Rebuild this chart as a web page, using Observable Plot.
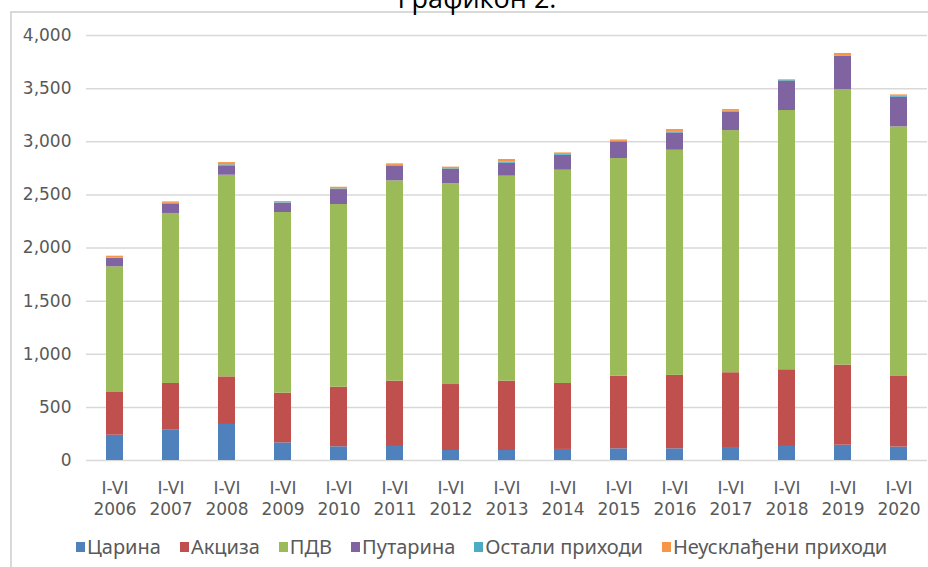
<!DOCTYPE html>
<html>
<head>
<meta charset="utf-8">
<script src="https://cdn.jsdelivr.net/npm/d3@7"></script>
<script src="https://cdn.jsdelivr.net/npm/@observablehq/plot@0.6"></script>
<style>
  html, body { margin: 0; padding: 0; background: #fff; }
  #wrap { position: relative; width: 928px; height: 567px; overflow: hidden; background: #fff; }
  #box { position: absolute; left: 10px; top: 11px; width: 930px; height: 600px;
         border-left: 2px solid #d9d9d9; border-top: 2px solid #d9d9d9; box-sizing: border-box; }
  #title { position: absolute; left: 0; top: 0; }
  #chart { position: absolute; left: 0; top: 0; }
  #legend { position: absolute; left: 76px; top: 533px; display: flex; align-items: center;
            font-family: "Noto Sans", sans-serif; font-size: 20px; color: #595959; white-space: nowrap; }
  .item { display: flex; align-items: center; margin-right: 19px; }
  .sw { width: 9px; height: 10px; margin-right: 2px; }
</style>
</head>
<body>
<div id="wrap">
  <div id="box"></div>
  <svg id="title" width="928" height="20">
    <text x="477" y="8" text-anchor="middle" font-family="Open Sans, sans-serif" font-size="27" fill="#000">Графикон 2.</text>
  </svg>
  <div id="chart"></div>
  <div id="legend"></div>
</div>
<script>
// ---- data ----
const years = ["2006","2007","2008","2009","2010","2011","2012","2013","2014","2015","2016","2017","2018","2019","2020"];
const periodLabel = "I-VI";
const seriesNames = ["Царина","Акциза","ПДВ","Путарина","Остали приходи","Неусклађени приходи"];
const seriesColors = ["#4f81bd","#c0504d","#9bbb59","#8064a2","#4bacc6","#f79646"];
const carina      = [238, 285, 339, 166, 129, 132,  94,  94, 104, 110, 110, 122, 132, 144, 126];
const akciza      = [408, 440, 448, 468, 561, 615, 621, 653, 621, 684, 691, 704, 722, 754, 665];
const pdv         = [1177,1600,1898,1700,1719,1885,1889,1929,2007,2048,2119,2279,2440,2591,2349];
const putarina    = [78,  90,  88,  88, 141, 138, 135, 122, 141, 156, 163, 173, 273, 314, 279];
const ostali      = [5,    5,  10,   5,   7,   7,   7,  12,   7,   5,  10,   8,   8,   6,   8];
const neuskladjeni= [17,  14,  21,  10,  15,  15,  15,  23,  15,  14,  22,  17,   8,  22,  14];
const yTicks = [0,500,1000,1500,2000,2500,3000,3500,4000];

const seriesValues = [carina, akciza, pdv, putarina, ostali, neuskladjeni];
const rows = [];
years.forEach((yr, i) => {
  seriesNames.forEach((s, j) => rows.push({year: yr, series: s, value: seriesValues[j][i]}));
});

const chart = Plot.plot({
  width: 928,
  height: 520,
  marginTop: 35,
  marginBottom: 60,
  marginLeft: 86,
  marginRight: 1,
  style: {fontFamily: "DejaVu Sans, sans-serif", fontSize: "17px", color: "#595959", background: "transparent"},
  x: {type: "band", domain: years, paddingInner: 0.7, paddingOuter: 0.35, label: null},
  y: {domain: [0, 4000], label: null},
  color: {domain: seriesNames, range: seriesColors},
  marks: [
    Plot.ruleY(yTicks, {stroke: "#d9d9d9", strokeWidth: 1.5}),
    Plot.barY(rows, Plot.stackY({order: null}, {x: "year", y: "value", fill: "series"})),
    Plot.axisY(yTicks, {tickSize: 0, tickPadding: 15, tickFormat: d3.format(","), fontSize: 17, fill: "#595959"}),
    Plot.axisX({tickSize: 0, tickPadding: 18, tickFormat: d => periodLabel + "\n" + d, lineHeight: 1.25, fontSize: 17, fill: "#595959"})
  ]
});
document.getElementById("chart").appendChild(chart);

const legend = document.getElementById("legend");
seriesNames.forEach((s, j) => {
  const it = document.createElement("div");
  it.className = "item";
  const sw = document.createElement("div");
  sw.className = "sw";
  sw.style.background = seriesColors[j];
  const tx = document.createElement("span");
  tx.textContent = s;
  it.appendChild(sw); it.appendChild(tx);
  legend.appendChild(it);
});
</script>
</body>
</html>
